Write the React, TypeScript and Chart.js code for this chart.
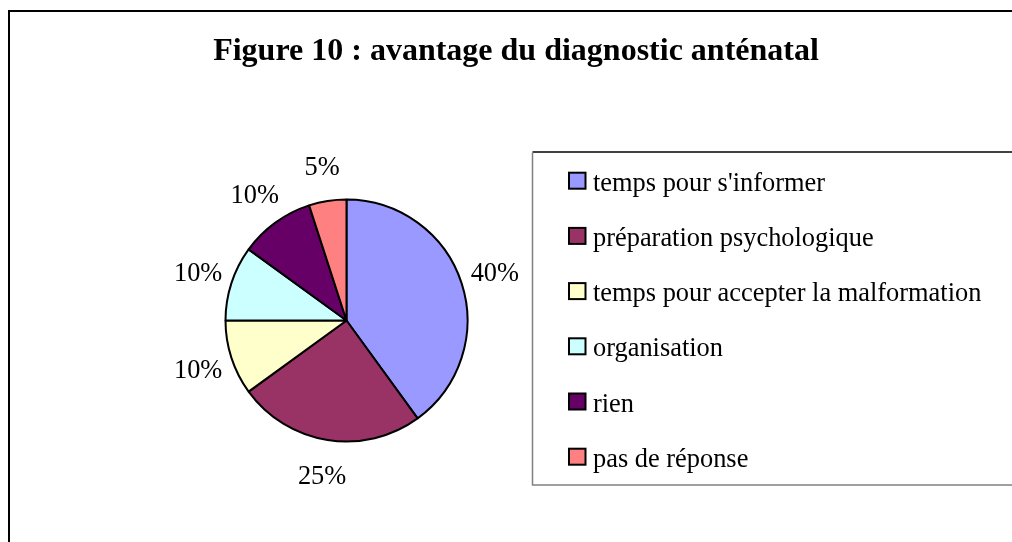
import React, { useEffect, useRef } from "react";
import { Chart, registerables } from "chart.js";

Chart.register(...registerables);

const TITLE = "Figure 10 : avantage du diagnostic anténatal";
const categories = [
  "temps pour s'informer",
  "préparation psychologique",
  "temps pour accepter la malformation",
  "organisation",
  "rien",
  "pas de réponse",
];
const percents = [40, 25, 10, 10, 10, 5];
const colors = ["#9999FF", "#993366", "#FFFFCC", "#CCFFFF", "#660066", "#FF8080"];

const FONT = '"Liberation Serif", "Times New Roman", serif';

export default function App() {
  const ref = useRef<HTMLCanvasElement | null>(null);

  useEffect(() => {
    const canvas = ref.current;
    if (!canvas) return;

    const framePlugin = {
      id: "frame",
      beforeDraw(chart: any) {
        const ctx = chart.ctx;
        ctx.save();
        ctx.fillStyle = "#ffffff";
        ctx.fillRect(0, 0, chart.width, chart.height);
        // outer frame
        ctx.strokeStyle = "#000";
        ctx.lineWidth = 2;
        ctx.beginPath();
        ctx.moveTo(9, chart.height + 5);
        ctx.lineTo(9, 11);
        ctx.lineTo(chart.width + 5, 11);
        ctx.stroke();
        // title
        ctx.fillStyle = "#000";
        ctx.font = `bold 32px ${FONT}`;
        ctx.textAlign = "center";
        ctx.textBaseline = "alphabetic";
        ctx.fillText(TITLE, 516, 60);
        // legend box
        ctx.lineWidth = 1.5;
        ctx.strokeStyle = "#000";
        ctx.beginPath();
        ctx.moveTo(chart.width + 5, 152);
        ctx.lineTo(532.5, 152);
        ctx.stroke();
        ctx.strokeStyle = "#808080";
        ctx.beginPath();
        ctx.moveTo(532.5, 152.5);
        ctx.lineTo(532.5, 485);
        ctx.lineTo(chart.width + 5, 485);
        ctx.stroke();
        // legend items
        ctx.font = `26.4px ${FONT}`;
        ctx.textAlign = "left";
        categories.forEach((c, i) => {
          const base = 190.7 + i * 55.2;
          ctx.fillStyle = colors[i];
          ctx.fillRect(569, base - 18, 16.5, 16);
          ctx.strokeStyle = "#000";
          ctx.lineWidth = 2;
          ctx.strokeRect(569, base - 18, 16.5, 16);
          ctx.fillStyle = "#000";
          ctx.fillText(c, 593, base);
        });
        ctx.restore();
      },
    };

    const labelPlugin = {
      id: "pctLabels",
      afterDatasetsDraw(chart: any) {
        const ctx = chart.ctx;
        const meta = chart.getDatasetMeta(0);
        ctx.save();
        ctx.font = `26.4px ${FONT}`;
        ctx.fillStyle = "#000";
        ctx.textAlign = "center";
        ctx.textBaseline = "middle";
        meta.data.forEach((arc: any, i: number) => {
          const p = arc.getProps(["x", "y", "startAngle", "endAngle", "outerRadius"], true);
          const mid = (p.startAngle + p.endAngle) / 2;
          const d = p.outerRadius + 35;
          const x = p.x + Math.cos(mid) * d;
          const y = p.y + Math.sin(mid) * d + 2;
          ctx.fillText(percents[i] + "%", x, y);
        });
        ctx.restore();
      },
    };

    const chart = new Chart(canvas, {
      type: "pie",
      data: {
        labels: categories,
        datasets: [
          {
            data: percents,
            backgroundColor: colors,
            borderColor: "#000",
            borderWidth: 2,
          },
        ],
      },
      options: {
        responsive: false,
        animation: false,
        radius: 121,
        layout: { padding: { left: 225, right: 544, top: 199, bottom: 100 } },
        plugins: {
          legend: { display: false },
          tooltip: { enabled: false },
          title: { display: false },
        },
      } as any,
      plugins: [framePlugin, labelPlugin],
    });

    return () => chart.destroy();
  }, []);

  return (
    <div style={{ position: "fixed", left: 0, top: 0, width: 1012, height: 542 }}>
      <canvas ref={ref} width={1012} height={542} style={{ width: 1012, height: 542, display: "block" }} />
    </div>
  );
}
